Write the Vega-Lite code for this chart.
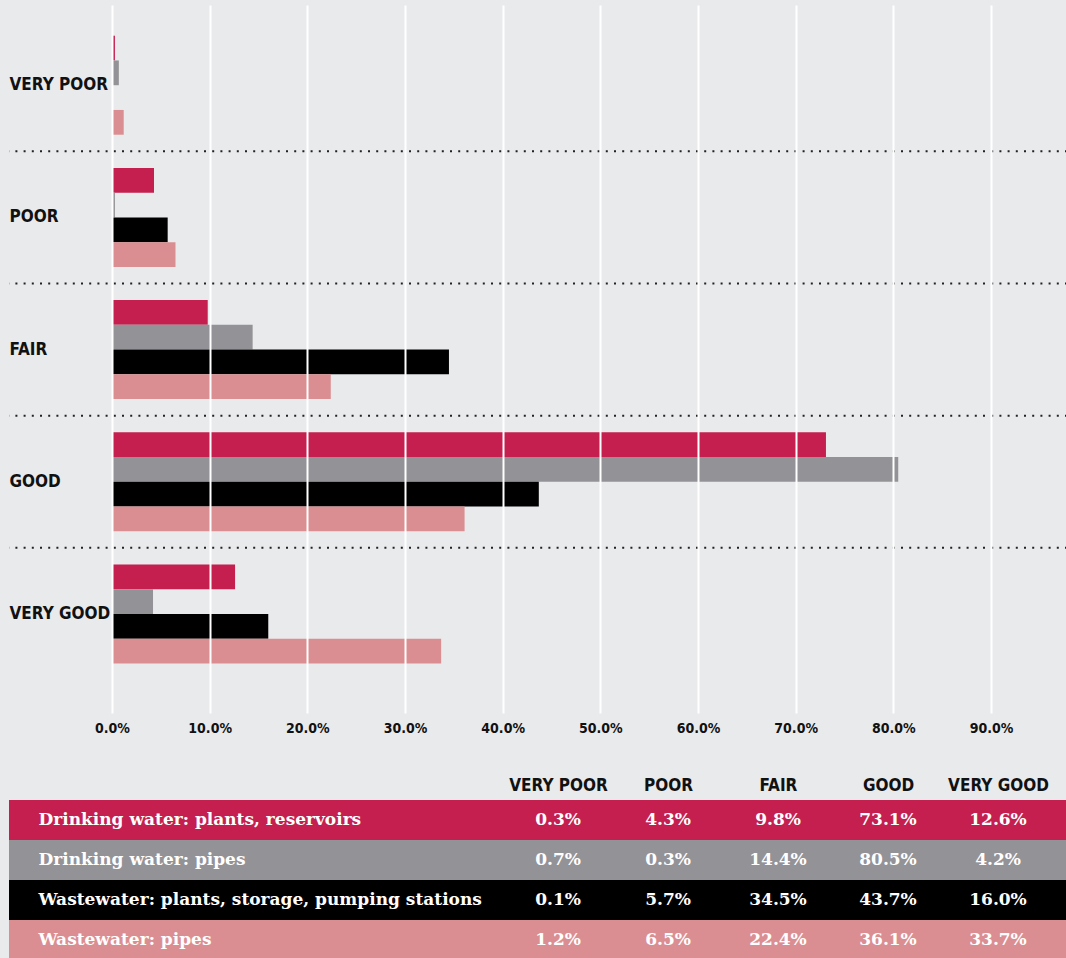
{
  "$schema": "https://vega.github.io/schema/vega-lite/v6.json",
  "background": "#e9eaec",
  "padding": {"left": 8, "top": 5, "right": 0, "bottom": 0},
  "spacing": 41,
  "datasets": {
    "ratings": [
      {"asset": "Drinking water: plants, reservoirs", "condition": "VERY POOR", "pct": 0.3},
      {"asset": "Drinking water: plants, reservoirs", "condition": "POOR", "pct": 4.3},
      {"asset": "Drinking water: plants, reservoirs", "condition": "FAIR", "pct": 9.8},
      {"asset": "Drinking water: plants, reservoirs", "condition": "GOOD", "pct": 73.1},
      {"asset": "Drinking water: plants, reservoirs", "condition": "VERY GOOD", "pct": 12.6},
      {"asset": "Drinking water: pipes", "condition": "VERY POOR", "pct": 0.7},
      {"asset": "Drinking water: pipes", "condition": "POOR", "pct": 0.3},
      {"asset": "Drinking water: pipes", "condition": "FAIR", "pct": 14.4},
      {"asset": "Drinking water: pipes", "condition": "GOOD", "pct": 80.5},
      {"asset": "Drinking water: pipes", "condition": "VERY GOOD", "pct": 4.2},
      {"asset": "Wastewater: plants, storage, pumping stations", "condition": "VERY POOR", "pct": 0.1},
      {"asset": "Wastewater: plants, storage, pumping stations", "condition": "POOR", "pct": 5.7},
      {"asset": "Wastewater: plants, storage, pumping stations", "condition": "FAIR", "pct": 34.5},
      {"asset": "Wastewater: plants, storage, pumping stations", "condition": "GOOD", "pct": 43.7},
      {"asset": "Wastewater: plants, storage, pumping stations", "condition": "VERY GOOD", "pct": 16.0},
      {"asset": "Wastewater: pipes", "condition": "VERY POOR", "pct": 1.2},
      {"asset": "Wastewater: pipes", "condition": "POOR", "pct": 6.5},
      {"asset": "Wastewater: pipes", "condition": "FAIR", "pct": 22.4},
      {"asset": "Wastewater: pipes", "condition": "GOOD", "pct": 36.1},
      {"asset": "Wastewater: pipes", "condition": "VERY GOOD", "pct": 33.7}
    ]
  },
  "config": {
    "view": {"stroke": null},
    "axis": {"domain": false, "ticks": false, "title": null, "grid": false}
  },
  "vconcat": [
    {
      "width": 1058,
      "height": 708,
      "data": {"name": "ratings"},
      "layer": [
        {
          "mark": {"type": "bar"},
          "encoding": {
            "y": {
              "field": "condition", "type": "nominal",
              "sort": ["VERY POOR", "POOR", "FAIR", "GOOD", "VERY GOOD"],
              "scale": {"paddingInner": 0, "paddingOuter": 0.178, "align": 0.3},
              "axis": {
                "labelAlign": "left", "labelPadding": 0, "labelBaseline": "middle",
                "labelFont": "DejaVu Sans Condensed, DejaVu Sans, sans-serif",
                "labelFontSize": 17, "labelFontWeight": "bold", "labelColor": "#111111",
                "labelLimit": 0, "zindex": 1
              }
            },
            "yOffset": {
              "field": "asset", "type": "nominal",
              "sort": ["Drinking water: plants, reservoirs", "Drinking water: pipes", "Wastewater: plants, storage, pumping stations", "Wastewater: pipes"],
              "scale": {"paddingInner": 0, "paddingOuter": 0.67}
            },
            "x": {
              "field": "pct", "type": "quantitative",
              "scale": {"domain": [-10.546, 97.78], "nice": false, "zero": false},
              "axis": {
                "values": [0, 10, 20, 30, 40, 50, 60, 70, 80, 90],
                "labelExpr": "format(datum.value, '.1f') + '%'",
                "grid": true, "gridColor": "#ffffff", "gridWidth": 2, "gridOpacity": 1,
                "labelPadding": 8,
                "labelFont": "DejaVu Sans Condensed, DejaVu Sans, sans-serif",
                "labelFontSize": 14, "labelFontWeight": "bold", "labelColor": "#111111",
                "zindex": 1
              }
            },
            "color": {
              "field": "asset", "type": "nominal",
              "scale": {
                "domain": ["Drinking water: plants, reservoirs", "Drinking water: pipes", "Wastewater: plants, storage, pumping stations", "Wastewater: pipes"],
                "range": ["#c41f4f", "#939296", "#000000", "#db8e91"]
              },
              "legend": null
            }
          }
        },
        {
          "transform": [
            {"filter": "datum.condition != 'VERY GOOD' && datum.asset == 'Drinking water: pipes'"}
          ],
          "mark": {"type": "rule", "strokeDash": [2, 6.2], "strokeWidth": 2, "color": "#222222"},
          "encoding": {
            "y": {
              "field": "condition", "type": "nominal",
              "sort": ["VERY POOR", "POOR", "FAIR", "GOOD", "VERY GOOD"],
              "bandPosition": 1
            }
          }
        }
      ]
    },
    {
      "width": 1058,
      "height": 160,
      "data": {"name": "ratings"},
      "layer": [
        {
          "transform": [{"filter": "datum.condition == 'VERY POOR'"}],
          "mark": {"type": "rect"},
          "encoding": {
            "y": {
              "field": "asset", "type": "nominal",
              "sort": ["Drinking water: plants, reservoirs", "Drinking water: pipes", "Wastewater: plants, storage, pumping stations", "Wastewater: pipes"],
              "scale": {"paddingInner": 0, "paddingOuter": 0},
              "axis": {
                "labelAlign": "left", "labelPadding": -29, "labelBaseline": "middle",
                "labelFont": "DejaVu Serif", "labelFontSize": 17, "labelFontWeight": "bold",
                "labelColor": "#ffffff", "labelLimit": 0, "zindex": 1
              }
            },
            "color": {
              "field": "asset", "type": "nominal",
              "scale": {
                "domain": ["Drinking water: plants, reservoirs", "Drinking water: pipes", "Wastewater: plants, storage, pumping stations", "Wastewater: pipes"],
                "range": ["#c41f4f", "#939296", "#000000", "#db8e91"]
              },
              "legend": null
            }
          }
        },
        {
          "transform": [{"calculate": "format(datum.pct, '.1f') + '%'", "as": "label"}],
          "mark": {"type": "text", "font": "DejaVu Serif", "fontWeight": "bold", "fontSize": 17, "color": "#ffffff", "align": "center", "baseline": "middle"},
          "encoding": {
            "x": {
              "field": "condition", "type": "nominal",
              "sort": ["VERY POOR", "POOR", "FAIR", "GOOD", "VERY GOOD"],
              "scale": {"type": "point", "range": [549, 989], "padding": 0},
              "axis": {
                "orient": "top", "labelPadding": 6, "labelAngle": 0,
                "labelFont": "DejaVu Sans Condensed, DejaVu Sans, sans-serif",
                "labelFontSize": 17, "labelFontWeight": "bold", "labelColor": "#111111",
                "labelLimit": 0
              }
            },
            "y": {
              "field": "asset", "type": "nominal",
              "sort": ["Drinking water: plants, reservoirs", "Drinking water: pipes", "Wastewater: plants, storage, pumping stations", "Wastewater: pipes"]
            },
            "text": {"field": "label", "type": "nominal"}
          }
        }
      ]
    }
  ]
}
